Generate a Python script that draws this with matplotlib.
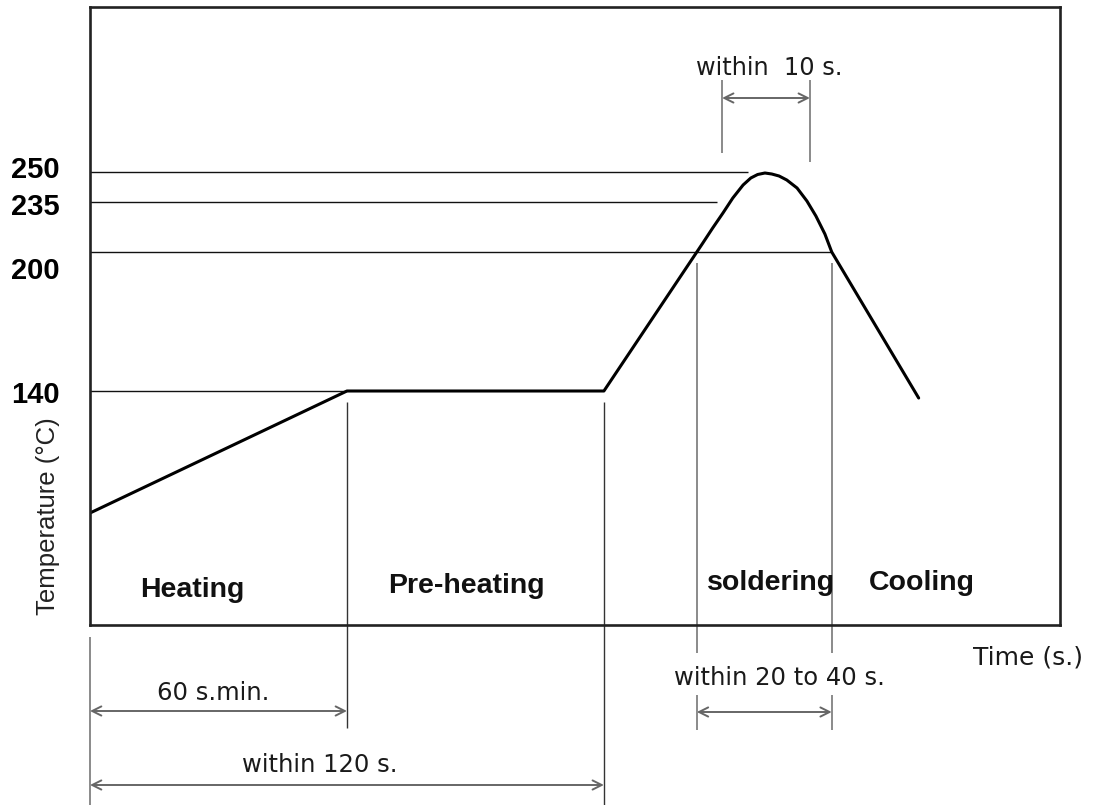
import numpy as np
import matplotlib
matplotlib.use("Agg")
import matplotlib.pyplot as plt
import matplotlib.transforms as mtransforms

# ---------------- data ----------------
# reflow profile (time in s, temperature in degC) read from the schematic
profile_time = [0, 60, 120, 141.7, 143.1, 145.4, 147.8, 150.1, 152.5, 154.3, 155.9, 157.6,
                159.2, 160.9, 162.7, 165.1, 167.4, 169.5, 171.6, 173.2, 193.5]
profile_temp = [67, 140, 140, 200, 206.3, 216.8, 227.3, 237.0, 243.5, 247.0, 248.75, 249.5,
                249.0, 248.0, 246.0, 242.0, 235.5, 225.2, 212.6, 200, 135.8]

# temperature levels shown on the axis
level_temps = [250, 235, 200, 140]
level_labels = ["250", "235", "200", "140"]
level_guide_end = [153.6, 146.4, 173.2, 60]   # time where each guide line stops

# schematic (not-to-scale) temperature axis
scale_temp = [0, 140, 200, 235, 250, 320]
scale_pos = [0, 234, 373, 423, 453, 618]

# time marks
heating_marks = [0, 60, 120]
solder_window = [141.7, 173.2]
peak_window = [147.6, 168.1]

phase_names = ["Heating", "Pre-heating", "soldering", "Cooling"]
phase_centers = [24.0, 88.0, 159.0, 194.3]

# ---------------- figure ----------------
W, H = 1096, 805
fig = plt.figure(figsize=(W / 100, H / 100), dpi=100)
ax = fig.add_axes([90 / W, 180 / H, 970 / W, 618 / H])


def fwd(t):
    return np.interp(t, scale_temp, scale_pos)


def inv(p):
    return np.interp(p, scale_pos, scale_temp)


ax.set_yscale("function", functions=(fwd, inv))
ax.set_xlim(0, 226.5)
ax.set_ylim(0, 320)
ax.set_xticks([])

bold = dict(family="Liberation Sans", weight="bold")
reg = dict(family="DejaVu Sans", color="#1a1a1a")

ax.set_yticks(level_temps)
ax.set_yticklabels(level_labels, fontsize=21, **bold)
ax.yaxis.set_minor_locator(matplotlib.ticker.NullLocator())
ax.tick_params(axis="y", length=0, pad=22)
label_dy_px = [5, -2, -16, -1]
for lab, dy in zip(ax.get_yticklabels(), label_dy_px):
    lab.set_transform(lab.get_transform() + mtransforms.ScaledTranslation(0, dy / 100, fig.dpi_scale_trans))

for s in ax.spines.values():
    s.set_linewidth(1.9)
    s.set_color("#222222")

# horizontal level guides
for T, tend in zip(level_temps, level_guide_end):
    ax.plot([0, tend], [T, T], color="#111111", lw=1.0, solid_capstyle="butt")

# profile
ax.plot(profile_time, profile_temp, color="black", lw=2.2, solid_joinstyle="round", solid_capstyle="round")

blend = mtransforms.blended_transform_factory(ax.transData, ax.transAxes)


def f(py):
    return (625 - py) / 618


def vseg(t, py0, py1, color, lw):
    ax.plot([t, t], [f(py0), f(py1)], transform=blend, color=color, lw=lw, clip_on=False,
            solid_capstyle="butt")


dark = "#333333"
gray = "#777777"
vseg(heating_marks[0], 637, 805, gray, 1.2)
vseg(heating_marks[1], 402, 728, dark, 1.0)
vseg(heating_marks[2], 402, 805, dark, 1.0)
for t in solder_window:
    vseg(t, 263, 653, gray, 1.2)
    vseg(t, 695, 730, gray, 1.2)
vseg(peak_window[0], 80, 153, gray, 1.2)
vseg(peak_window[1], 80, 162, gray, 1.2)


def dim_arrow(t0, t1, py):
    ax.annotate("", xy=(t1, f(py)), xytext=(t0, f(py)), xycoords=blend, textcoords=blend,
                arrowprops=dict(arrowstyle="<->,head_length=0.6,head_width=0.3", color="#666666",
                                lw=1.4, shrinkA=0, shrinkB=0, mutation_scale=11),
                annotation_clip=False)


dim_arrow(peak_window[0], peak_window[1], 98)
dim_arrow(heating_marks[0], heating_marks[1], 711)
dim_arrow(heating_marks[0], heating_marks[2], 785)
dim_arrow(solder_window[0], solder_window[1], 712)

# annotation texts
ax.text(158.5, f(68), "within  10 s.", transform=blend, ha="center", va="center", fontsize=17.3, **reg)
ax.text(28.7, f(693), "60 s.min.", transform=blend, ha="center", va="center", fontsize=17.5, **reg)
ax.text(53.7, f(765), "within 120 s.", transform=blend, ha="center", va="center", fontsize=17.5, **reg)
ax.text(160.9, f(678), "within 20 to 40 s.", transform=blend, ha="center", va="center", fontsize=17.5, **reg)
ax.text(219.0, f(657), "Time (s.)", transform=blend, ha="center", va="center", fontsize=18, **reg)

phase_baseline_py = [597, 593, 590, 590]
for name, tc, py in zip(phase_names, phase_centers, phase_baseline_py):
    ax.text(tc, f(py), name, transform=blend, ha="center", va="baseline", fontsize=20.5, color="#111111", **bold)

ax.set_ylabel("Temperature (\u00b0C)", family="Liberation Sans", fontsize=18.5, color="#222222", va="center")
ax.yaxis.set_label_coords((48 - 90) / 970, (625 - 516) / 618)

fig.savefig("out.png", dpi=100, facecolor="white")
